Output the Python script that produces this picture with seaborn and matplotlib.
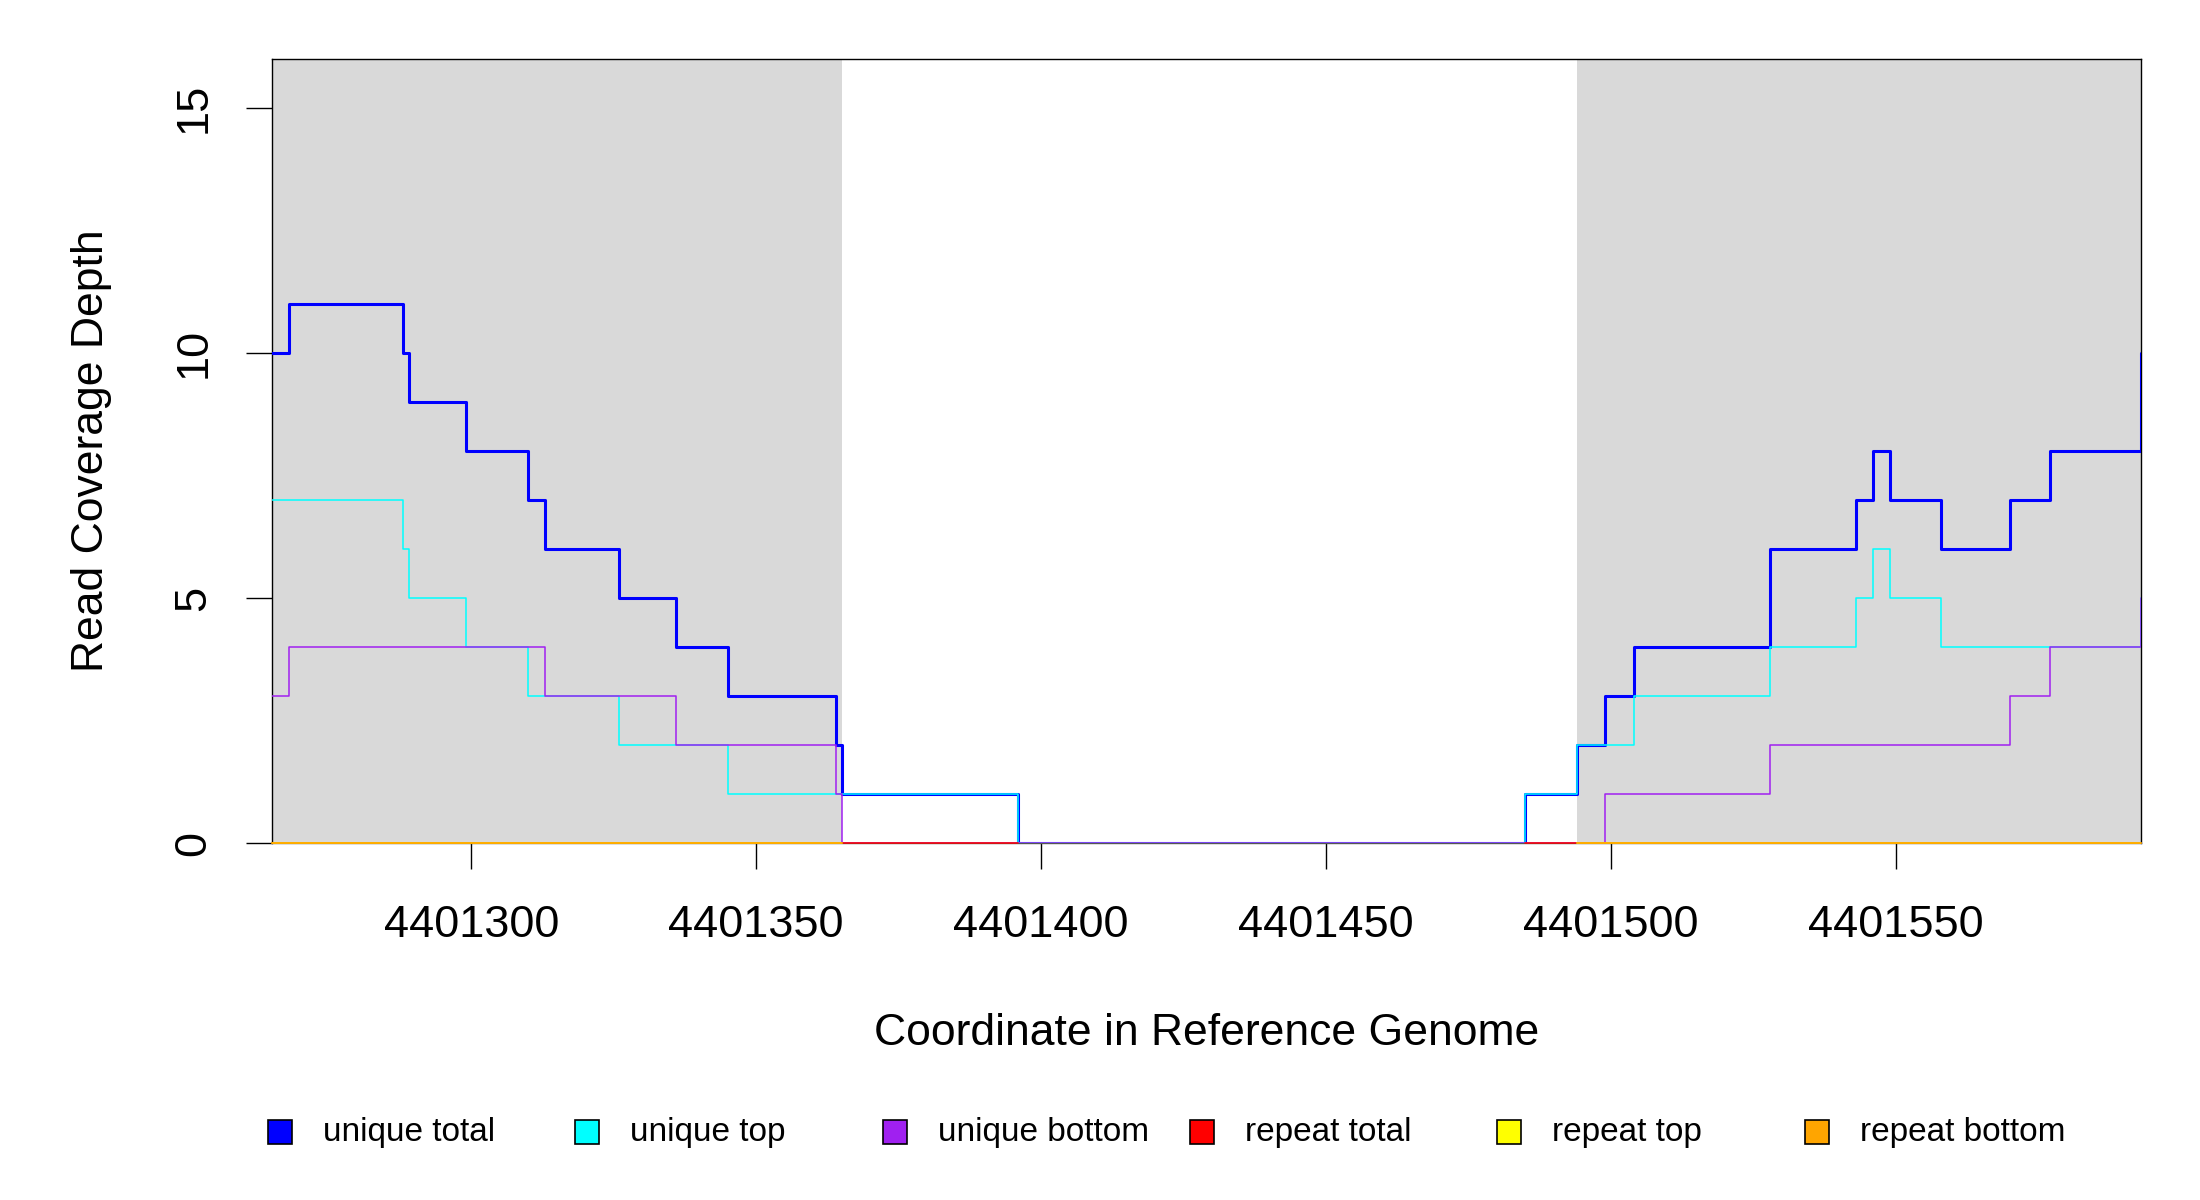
import numpy as np
import pandas as pd
import seaborn as sns
import matplotlib.pyplot as plt
from matplotlib.patches import Rectangle

# step starts (reference coordinate) and depth values
total_pos = [4401265, 4401268, 4401288, 4401289, 4401299, 4401310, 4401313, 4401326,
             4401336, 4401345, 4401364, 4401365, 4401396, 4401485, 4401494, 4401499,
             4401504, 4401528, 4401543, 4401546, 4401549, 4401558, 4401570, 4401577,
             4401593]
total_val = [10, 11, 10, 9, 8, 7, 6, 5, 4, 3, 2, 1, 0, 1, 2, 3, 4, 6, 7, 8, 7, 6, 7, 8, 10]

top_pos = [4401265, 4401288, 4401289, 4401299, 4401310, 4401326, 4401345, 4401396,
           4401485, 4401494, 4401504, 4401528, 4401543, 4401546, 4401549, 4401558,
           4401593]
top_val = [7, 6, 5, 4, 3, 2, 1, 0, 1, 2, 3, 4, 5, 6, 5, 4, 5]

bottom_pos = [4401265, 4401268, 4401313, 4401336, 4401364, 4401365, 4401499, 4401528,
              4401570, 4401577, 4401593]
bottom_val = [3, 4, 3, 2, 1, 0, 1, 2, 3, 4, 5]

# repeat coverage is zero where reads exist, missing in the gap
rep_pos = [4401265, 4401365, 4401396, 4401485, 4401494, 4401593]
rep_total_val = [0, 0, np.nan, 0, 0, 0]
rep_top_val = [0, np.nan, np.nan, np.nan, 0, 0]
rep_bottom_val = [0, np.nan, np.nan, np.nan, 0, 0]

# shaded (flanking) regions
region_start = [4401265, 4401494]
region_end = [4401365, 4401593]

series_names = ['unique total', 'unique top', 'unique bottom',
                'repeat total', 'repeat top', 'repeat bottom']
series_colors = ['#0000FF', '#00FFFF', '#A020F0', '#FF0000', '#FFFF00', '#FFA500']

x_ticks = [4401300, 4401350, 4401400, 4401450, 4401500, 4401550]
y_ticks = [0, 5, 10, 15]


def main():
    sns.set_style('white')
    plt.rcParams['font.family'] = ['Liberation Sans', 'DejaVu Sans']
    plt.rcParams['text.color'] = 'black'
    plt.rcParams['axes.labelcolor'] = 'black'
    plt.rcParams['xtick.color'] = 'black'
    plt.rcParams['ytick.color'] = 'black'

    fig = plt.figure(figsize=(22, 12), dpi=100)
    ax = fig.add_axes([0.1236, 0.2975, 0.8495, 0.6533])

    for s, e in zip(region_start, region_end):
        ax.axvspan(s, e, color='#D9D9D9', lw=0, zorder=1)

    unique = [(total_pos, total_val, 2.2), (top_pos, top_val, 1.1), (bottom_pos, bottom_val, 1.1)]
    for i, (pos, val, lw) in enumerate(unique):
        df = pd.DataFrame({'pos': pos, 'depth': val})
        sns.lineplot(data=df, x='pos', y='depth', ax=ax, color=series_colors[i],
                     linewidth=lw, drawstyle='steps-post', estimator=None, sort=False,
                     zorder=3)

    for i, val in enumerate([rep_total_val, rep_top_val, rep_bottom_val]):
        ax.plot(rep_pos, val, color=series_colors[3 + i], linewidth=1.1,
                drawstyle='steps-post', zorder=3, clip_on=False)

    ax.set_xlim(4401265, 4401593)
    ax.set_ylim(0, 16)
    ax.set_xticks(x_ticks)
    ax.set_xticklabels([str(t) for t in x_ticks])
    ax.set_yticks(y_ticks)
    ax.set_yticklabels([str(t) for t in y_ticks])
    ax.tick_params(axis='both', direction='out', length=18.5, width=1, color='black',
                   labelcolor='black', labelsize=32.5, bottom=True, left=True)
    ax.tick_params(axis='x', pad=26)
    ax.tick_params(axis='y', pad=23, labelrotation=90)
    for lab in ax.get_yticklabels():
        lab.set_va('center')

    for sp in ax.spines.values():
        sp.set_color('black')
        sp.set_linewidth(1)
    ax.spines['bottom'].set_color('#555555')

    ax.set_xlabel('Coordinate in Reference Genome', fontsize=32)
    ax.set_ylabel('Read Coverage Depth', fontsize=32)
    ax.xaxis.set_label_coords(0.5, -0.217)
    ax.yaxis.set_label_coords(-0.0858, 0.5)

    # legend row along the bottom
    W, H = 2200, 1200
    for i, (name, col) in enumerate(zip(series_names, series_colors)):
        cx = 280 + i * 307.3
        fig.patches.append(Rectangle(((cx - 12) / W, 1 - 1144 / H), 24 / W, 24 / H,
                                     transform=fig.transFigure, facecolor=col,
                                     edgecolor='black', linewidth=1.2))
        fig.text((cx + 43) / W, 1 - 1133 / H, name, fontsize=24, va='center', ha='left')

    fig.savefig('out.png', dpi=100)
    plt.close(fig)


if __name__ == "__main__":
    main()
